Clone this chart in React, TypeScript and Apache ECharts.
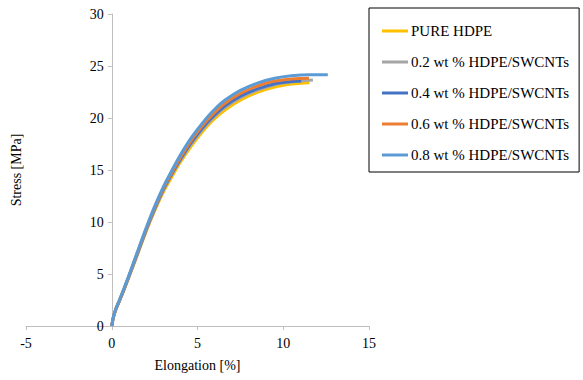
import React, { useEffect, useRef } from "react";
import * as echarts from "echarts";

const seriesNames = [
  "PURE HDPE",
  "0.2 wt % HDPE/SWCNTs",
  "0.4 wt % HDPE/SWCNTs",
  "0.6 wt % HDPE/SWCNTs",
  "0.8 wt % HDPE/SWCNTs",
];
const colors = ["#FFC000", "#A5A5A5", "#4472C4", "#ED7D31", "#5B9BD5"];

const elongPure = [0, 0.1, 0.25, 0.45, 0.7, 1.07, 1.5, 2.03, 2.5, 3.0, 3.41, 4.0, 4.65, 5.47, 6.0, 6.59, 7.5, 8.53, 9.5, 10.47, 11.0, 11.53];
const stressPure = [0, 0.85, 1.62, 2.4, 3.4, 4.98, 6.86, 9.19, 11.06, 12.86, 14.07, 15.74, 17.33, 19.04, 19.94, 20.75, 21.71, 22.48, 22.97, 23.26, 23.35, 23.4];

const elong02 = [0, 0.1, 0.25, 0.45, 0.7, 1.07, 1.5, 2.03, 2.5, 3.0, 3.41, 4.0, 4.65, 5.47, 6.0, 6.59, 7.5, 8.53, 9.5, 10.47, 11.0, 11.73];
const stress02 = [0, 0.86, 1.63, 2.42, 3.44, 5.03, 6.94, 9.28, 11.17, 13.02, 14.29, 15.91, 17.53, 19.25, 20.16, 21.0, 21.96, 22.7, 23.2, 23.45, 23.55, 23.65];

const elong04 = [0, 0.1, 0.25, 0.45, 0.7, 1.07, 1.5, 2.03, 2.5, 3.0, 3.41, 4.0, 4.65, 5.47, 6.0, 6.59, 7.5, 8.53, 9.5, 10.47, 11.05];
const stress04 = [0, 0.87, 1.65, 2.45, 3.47, 5.08, 6.98, 9.36, 11.29, 13.11, 14.37, 16.04, 17.68, 19.39, 20.29, 21.15, 22.11, 22.83, 23.3, 23.5, 23.55];

const elong06 = [0, 0.1, 0.25, 0.45, 0.7, 1.07, 1.5, 2.03, 2.5, 3.0, 3.41, 4.0, 4.65, 5.47, 6.0, 6.59, 7.5, 8.53, 9.5, 10.47, 11.0, 11.5];
const stress06 = [0, 0.88, 1.67, 2.47, 3.5, 5.12, 7.07, 9.43, 11.37, 13.21, 14.47, 16.2, 17.88, 19.6, 20.54, 21.4, 22.36, 23.1, 23.55, 23.75, 23.8, 23.82];

const elong08 = [0, 0.1, 0.25, 0.45, 0.7, 1.07, 1.5, 2.03, 2.5, 3.0, 3.41, 4.0, 4.65, 5.47, 6.0, 6.59, 7.5, 8.53, 9.5, 10.47, 11.5, 12.6];
const stress08 = [0, 0.9, 1.7, 2.5, 3.55, 5.18, 7.16, 9.54, 11.51, 13.36, 14.67, 16.44, 18.13, 19.89, 20.84, 21.7, 22.66, 23.38, 23.82, 24.06, 24.16, 24.15];

const xTicks = [-5, 0, 5, 10, 15];
const yTicks = [0, 5, 10, 15, 20, 25, 30];

const elongs = [elongPure, elong02, elong04, elong06, elong08];
const stresses = [stressPure, stress02, stress04, stress06, stress08];

const FONT = "Liberation Serif";

const GRID_LEFT = 26;
const GRID_RIGHT = 214;
const WIDTH = 583;

export default function App() {
  const ref = useRef<HTMLDivElement>(null);
  useEffect(() => {
    if (!ref.current) return;
    const chart = echarts.init(ref.current, undefined, { renderer: "svg" });
    const axisLineColor = "#bfbfbf";
    const plotW = WIDTH - GRID_LEFT - GRID_RIGHT;
    const xMin = xTicks[0];
    const xMax = xTicks[xTicks.length - 1];
    // place the y axis at x = 0 of the x scale
    const yAxisOffset = -((0 - xMin) / (xMax - xMin)) * plotW;
    chart.setOption({
      animation: false,
      backgroundColor: "#ffffff",
      textStyle: { fontFamily: FONT },
      grid: { left: GRID_LEFT, right: GRID_RIGHT, top: 14, bottom: 54, containLabel: false, outerBoundsMode: "none" },
      legend: {
        orient: "vertical",
        left: 369,
        top: 8,
        padding: [13, 10, 7, 13],
        itemGap: 11,
        itemWidth: 26,
        itemHeight: 3,
        icon: "rect",
        borderColor: "#000000",
        borderWidth: 1,
        textStyle: { fontFamily: FONT, fontSize: 15, color: "#000", lineHeight: 20, padding: [0, 0, 0, -2] },
        data: seriesNames,
      },
      xAxis: {
        type: "value",
        min: xMin,
        max: xMax,
        interval: 5,
        name: "Elongation [%]",
        nameLocation: "middle",
        nameGap: 32,
        nameTextStyle: { fontFamily: FONT, fontSize: 14, color: "#000" },
        splitLine: { show: false },
        axisLine: { show: true, onZero: false, lineStyle: { color: axisLineColor, width: 1 } },
        axisTick: { show: true, length: 4, lineStyle: { color: axisLineColor } },
        axisLabel: { fontFamily: FONT, fontSize: 14, color: "#000", margin: 10 },
      },
      yAxis: {
        type: "value",
        min: yTicks[0],
        max: yTicks[yTicks.length - 1],
        interval: 5,
        offset: yAxisOffset,
        name: "Stress [MPa]",
        nameLocation: "middle",
        nameGap: 88,
        nameRotate: 90,
        nameTextStyle: { fontFamily: FONT, fontSize: 14, color: "#000" },
        splitLine: { show: false },
        axisLine: { show: true, onZero: false, lineStyle: { color: axisLineColor, width: 1 } },
        axisTick: { show: true, length: 4, lineStyle: { color: axisLineColor } },
        axisLabel: { fontFamily: FONT, fontSize: 14, color: "#000", margin: 8 },
      },
      series: seriesNames.map((name, i) => ({
        name,
        type: "line",
        data: elongs[i].map((x, j) => [x, stresses[i][j]]),
        showSymbol: false,
        smooth: 0.3,
        color: colors[i],
        lineStyle: { color: colors[i], width: 3 },
        z: 2 + i,
      })),
    });
    return () => chart.dispose();
  }, []);
  return <div ref={ref} style={{ width: 583, height: 380, position: "absolute", left: 0, top: 0 }} />;
}
